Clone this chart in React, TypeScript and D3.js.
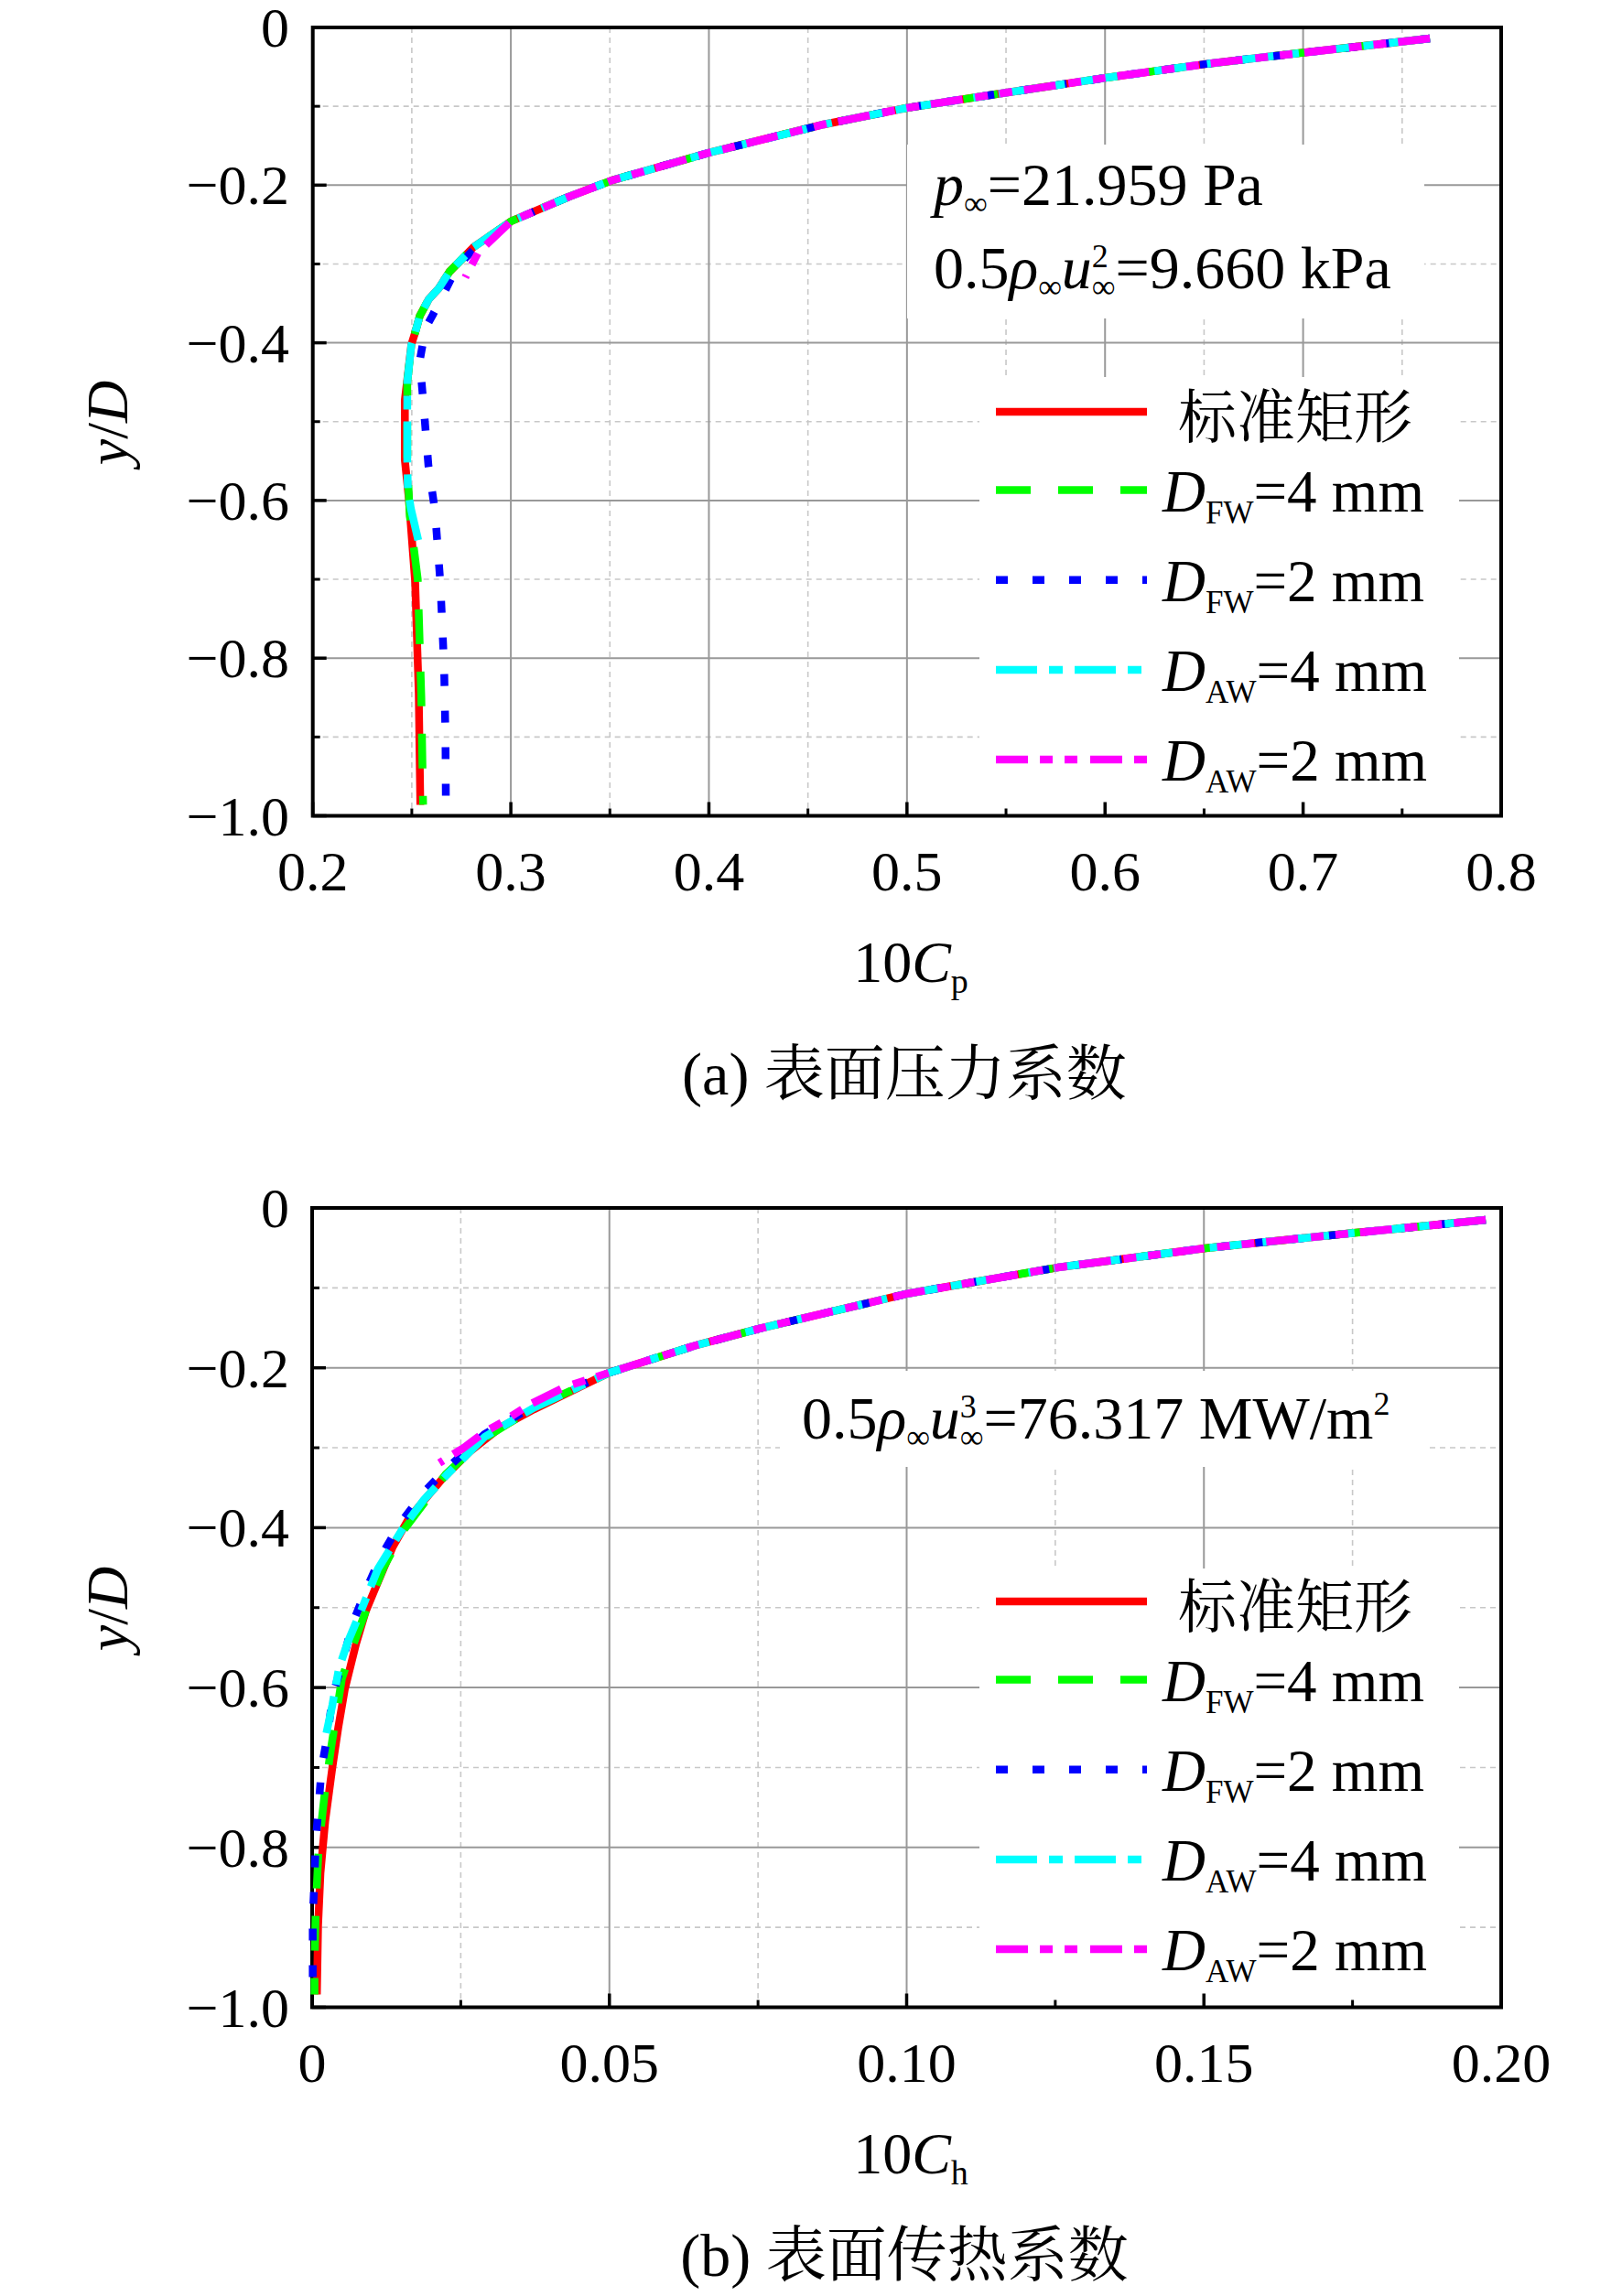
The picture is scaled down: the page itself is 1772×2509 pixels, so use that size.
import React from "react";
import * as d3 from "d3";

type Pt = [number, number];

// ---- (a) 表面压力系数: points are [10Cp, y/D]
// upper part, where all five curves lie on top of each other
const cpShared: Pt[] = [
  [0.764, -0.014], [0.700, -0.032], [0.652, -0.046], [0.600, -0.064],
  [0.544, -0.085], [0.500, -0.102], [0.458, -0.123], [0.400, -0.159],
  [0.351, -0.194], [0.329, -0.215], [0.300, -0.246],
];
const cpStandardTail: Pt[] = [
  [0.281, -0.279], [0.269, -0.310], [0.2636, -0.331], [0.2585, -0.345],
  [0.254, -0.366], [0.2517, -0.387], [0.2498, -0.402], [0.2465, -0.472],
  [0.2465, -0.549], [0.2485, -0.598], [0.2517, -0.704], [0.2535, -0.845],
  [0.2543, -0.986],
];
const cpFW4Tail: Pt[] = [
  [0.281, -0.279], [0.269, -0.310], [0.2636, -0.331], [0.2585, -0.345],
  [0.254, -0.366], [0.2517, -0.387], [0.2498, -0.402], [0.2477, -0.450],
  [0.2477, -0.550], [0.2490, -0.620], [0.2530, -0.700], [0.2548, -0.850],
  [0.2557, -0.986],
];
const cpFW2Tail: Pt[] = [
  [0.283, -0.277], [0.273, -0.303], [0.266, -0.338], [0.2605, -0.365],
  [0.257, -0.381], [0.254, -0.423], [0.2557, -0.472], [0.2584, -0.556],
  [0.2617, -0.613], [0.2644, -0.704], [0.2663, -0.810], [0.2670, -0.900],
  [0.2672, -0.984],
];
const cpAW4Tail: Pt[] = [
  [0.281, -0.279], [0.269, -0.310], [0.2636, -0.331], [0.2585, -0.345],
  [0.254, -0.366], [0.2517, -0.387], [0.2498, -0.402], [0.2477, -0.450],
  [0.2477, -0.550], [0.2480, -0.585], [0.2495, -0.610], [0.2533, -0.651],
];
const cpAW2Tail: Pt[] = [[0.2835, -0.2855], [0.277, -0.317]];

// ---- (b) 表面传热系数: points are [10Ch, y/D]
const chShared: Pt[] = [
  [0.1974, -0.015], [0.1756, -0.031], [0.1506, -0.050], [0.1254, -0.0745],
  [0.1003, -0.107], [0.0752, -0.151], [0.0645, -0.172], [0.050, -0.206],
];
const chStandardTail: Pt[] = [
  [0.0373, -0.252], [0.0317, -0.2745], [0.0265, -0.305], [0.0219, -0.339],
  [0.0163, -0.388], [0.0135, -0.425], [0.0109, -0.471], [0.0090, -0.505],
  [0.0074, -0.545], [0.0055, -0.602], [0.0044, -0.650], [0.0034, -0.700],
  [0.0022, -0.767], [0.0014, -0.832], [0.0010, -0.898], [0.0008, -0.984],
];
const chFW4Tail: Pt[] = [
  [0.0373, -0.250], [0.029, -0.288], [0.0225, -0.333], [0.0155, -0.402],
  [0.0120, -0.450], [0.0091, -0.503], [0.0068, -0.549], [0.0050, -0.589],
  [0.0032, -0.675], [0.0022, -0.727], [0.0011, -0.800], [0.0006, -0.878],
  [0.0004, -0.951], [0.0004, -0.984],
];
const chFW2Tail: Pt[] = [
  [0.0373, -0.248], [0.029, -0.283], [0.0225, -0.327], [0.0186, -0.357],
  [0.0148, -0.395], [0.0117, -0.434], [0.0091, -0.477], [0.0068, -0.520],
  [0.0052, -0.565], [0.0034, -0.612], [0.0027, -0.655], [0.0016, -0.700],
  [0.0011, -0.747], [0.0006, -0.793], [0.0004, -0.839], [0.0001, -0.888],
  [0.0001, -0.982],
];
const chAW4Tail: Pt[] = [
  [0.0373, -0.250], [0.0291, -0.286], [0.0229, -0.332], [0.0188, -0.365],
  [0.0155, -0.398], [0.0111, -0.451], [0.0086, -0.497], [0.0060, -0.543],
  [0.0045, -0.576], [0.0034, -0.622], [0.0024, -0.657],
];
const chAW2Tail: Pt[] = [
  [0.0425, -0.224], [0.0363, -0.247], [0.0322, -0.267], [0.0291, -0.280],
  [0.0255, -0.300], [0.0214, -0.319],
];

// ticks
const cpXMajor = [0.2, 0.3, 0.4, 0.5, 0.6, 0.7, 0.8];
const cpXMinor = [0.25, 0.35, 0.45, 0.55, 0.65, 0.75];
const cpXLabels = ["0.2", "0.3", "0.4", "0.5", "0.6", "0.7", "0.8"];
const chXMajor = [0, 0.05, 0.1, 0.15, 0.2];
const chXMinor = [0.025, 0.075, 0.125, 0.175];
const chXLabels = ["0", "0.05", "0.10", "0.15", "0.20"];
const yMajor = [0, -0.2, -0.4, -0.6, -0.8, -1.0];
const yMinor = [-0.1, -0.3, -0.5, -0.7, -0.9];
const yLabels = ["0", "\u22120.2", "\u22120.4", "\u22120.6", "\u22120.8", "\u22121.0"];

// legend: 标准矩形, D_FW=4 mm, D_FW=2 mm, D_AW=4 mm, D_AW=2 mm
const legendSub = ["", "FW", "FW", "AW", "AW"];
const legendRest = ["标准矩形", "=4 mm", "=2 mm", "=4 mm", "=2 mm"];
const seriesColors = ["#ff0000", "#00ff00", "#0000ff", "#00ffff", "#ff00ff"];
const seriesDashes = ["none", "38,30", "13,27", "45,13,15,13", "35,13,14,13,14,14"];

const serif = "'Liberation Serif','Times New Roman',serif";
const cjk = "'Liberation Serif','Noto Serif CJK SC','Noto Sans CJK SC',serif";

type PanelProps = {
  left: number; right: number; top: number; bottom: number;
  xDomain: [number, number];
  xMajor: number[]; xMinor: number[]; xLabels: string[];
  series: Pt[][];
  xSub: string;
  caption: string;
  captionY: number;
  legendRows: number[];
  legendBox: [number, number, number, number];
  noteBox: [number, number, number, number];
  note: React.ReactNode;
  yTitleY: number;
};

function Panel(p: PanelProps) {
  const x = d3.scaleLinear().domain(p.xDomain).range([p.left, p.right]);
  const y = d3.scaleLinear().domain([-1, 0]).range([p.bottom, p.top]);
  const line = d3.line<Pt>().x((d) => x(d[0])).y((d) => y(d[1]));
  const inner = (v: number, d: [number, number]) => v !== d[0] && v !== d[1];

  return (
    <g>
      {/* minor grid */}
      {p.xMinor.map((v) => (
        <line key={"xm" + v} x1={x(v)} x2={x(v)} y1={p.top} y2={p.bottom}
          stroke="#c8c8c8" strokeWidth={1.6} strokeDasharray="6,5" />
      ))}
      {yMinor.map((v) => (
        <line key={"ym" + v} x1={p.left} x2={p.right} y1={y(v)} y2={y(v)}
          stroke="#c8c8c8" strokeWidth={1.6} strokeDasharray="6,5" />
      ))}
      {/* major grid */}
      {p.xMajor.filter((v) => inner(v, p.xDomain)).map((v) => (
        <line key={"xg" + v} x1={x(v)} x2={x(v)} y1={p.top} y2={p.bottom}
          stroke="#999" strokeWidth={2} />
      ))}
      {yMajor.filter((v) => inner(v, [-1, 0])).map((v) => (
        <line key={"yg" + v} x1={p.left} x2={p.right} y1={y(v)} y2={y(v)}
          stroke="#999" strokeWidth={2} />
      ))}
      {/* boxes hiding the grid behind note and legend */}
      <rect x={p.noteBox[0]} y={p.noteBox[1]} width={p.noteBox[2] - p.noteBox[0]}
        height={p.noteBox[3] - p.noteBox[1]} fill="#fff" />
      <rect x={p.legendBox[0]} y={p.legendBox[1]} width={p.legendBox[2] - p.legendBox[0]}
        height={p.legendBox[3] - p.legendBox[1]} fill="#fff" />
      {/* ticks, inward on bottom and left */}
      {p.xMajor.map((v) => (
        <line key={"xt" + v} x1={x(v)} x2={x(v)} y1={p.bottom} y2={p.bottom - 15}
          stroke="#000" strokeWidth={3.5} />
      ))}
      {p.xMinor.map((v) => (
        <line key={"xtm" + v} x1={x(v)} x2={x(v)} y1={p.bottom} y2={p.bottom - 8}
          stroke="#000" strokeWidth={3} />
      ))}
      {yMajor.map((v) => (
        <line key={"yt" + v} x1={p.left} x2={p.left + 15} y1={y(v)} y2={y(v)}
          stroke="#000" strokeWidth={3.5} />
      ))}
      {yMinor.map((v) => (
        <line key={"ytm" + v} x1={p.left} x2={p.left + 8} y1={y(v)} y2={y(v)}
          stroke="#000" strokeWidth={3} />
      ))}
      <rect x={p.left} y={p.top} width={p.right - p.left} height={p.bottom - p.top}
        fill="none" stroke="#000" strokeWidth={4} />
      {/* curves */}
      {p.series.map((s, i) => (
        <path key={"s" + i} d={line(s) ?? ""} fill="none" stroke={seriesColors[i]}
          strokeWidth={8.5} strokeDasharray={seriesDashes[i]} strokeLinejoin="round" />
      ))}
      {/* legend */}
      {p.legendRows.map((ry, i) => (
        <g key={"lg" + i}>
          <line x1={1088} x2={1253} y1={ry} y2={ry} stroke={seriesColors[i]}
            strokeWidth={8.5} strokeDasharray={seriesDashes[i]} />
          {legendSub[i] === "" ? (
            <text x={1287} y={ry + 28} fontSize={64} fontFamily={cjk}>{legendRest[i]}</text>
          ) : (
            <text x={1270} y={ry + 23} fontSize={65} fontFamily={serif}>
              <tspan fontStyle="italic">D</tspan>
              <tspan fontSize={35} dy={13}>{legendSub[i]}</tspan>
              <tspan dy={-13}>{legendRest[i]}</tspan>
            </text>
          )}
        </g>
      ))}
      {p.note}
      {/* tick labels */}
      {p.xMajor.map((v, i) => (
        <text key={"xl" + v} x={x(v)} y={p.bottom + 81} fontSize={62} fontFamily={serif}
          textAnchor="middle">{p.xLabels[i]}</text>
      ))}
      {yMajor.map((v, i) => (
        <text key={"yl" + v} x={316} y={y(v) + 21} fontSize={62} fontFamily={serif}
          textAnchor="end">{yLabels[i]}</text>
      ))}
      {/* axis titles */}
      <text transform={`translate(139,${p.yTitleY}) rotate(-90)`} fontSize={64}
        fontFamily={serif} textAnchor="middle">
        <tspan fontStyle="italic">y</tspan>/<tspan fontStyle="italic">D</tspan>
      </text>
      <text x={995} y={p.bottom + 181} fontSize={64} fontFamily={serif} textAnchor="middle">
        10<tspan fontStyle="italic">C</tspan>
        <tspan fontSize={38} dy={12}>{p.xSub}</tspan>
      </text>
      <text x={988} y={p.captionY} fontSize={66} fontFamily={cjk} textAnchor="middle">
        {p.caption}
      </text>
    </g>
  );
}

export default function App() {
  const cpSeries = [
    [...cpShared, ...cpStandardTail],
    [...cpShared, ...cpFW4Tail],
    [...cpShared, ...cpFW2Tail],
    [...cpShared, ...cpAW4Tail],
    [...cpShared, ...cpAW2Tail],
  ];
  const chSeries = [
    [...chShared, ...chStandardTail],
    [...chShared, ...chFW4Tail],
    [...chShared, ...chFW2Tail],
    [...chShared, ...chAW4Tail],
    [...chShared, ...chAW2Tail],
  ];

  const noteA = (
    <g fontFamily={serif} fontSize={66}>
      <text x={1020} y={224}>
        <tspan fontStyle="italic">p</tspan>
        <tspan fontSize={36} dy={10}>∞</tspan>
        <tspan dy={-10}>=21.959 Pa</tspan>
      </text>
      <text x={1020} y={315}>
        0.5<tspan fontStyle="italic">ρ</tspan>
        <tspan fontSize={36} dy={10}>∞</tspan>
        <tspan fontStyle="italic" dy={-10}>u</tspan>
        <tspan fontSize={36} dy={10}>∞</tspan>
        <tspan fontSize={36} dx={-25.7} dy={-33}>2</tspan>
        <tspan dx={7.7} dy={23}>=9.660 kPa</tspan>
      </text>
    </g>
  );
  const noteB = (
    <g fontFamily={serif} fontSize={66}>
      <text x={876} y={1572}>
        0.5<tspan fontStyle="italic">ρ</tspan>
        <tspan fontSize={36} dy={10}>∞</tspan>
        <tspan fontStyle="italic" dy={-10}>u</tspan>
        <tspan fontSize={36} dy={10}>∞</tspan>
        <tspan fontSize={36} dx={-25.7} dy={-33}>3</tspan>
        <tspan dx={7.7} dy={23}>=76.317 MW/m</tspan>
        <tspan fontSize={36} dy={-26}>2</tspan>
      </text>
    </g>
  );

  return (
    <svg width={1772} height={2509} style={{ position: "absolute", left: 0, top: 0, background: "#fff" }}>
      <rect width={1772} height={2509} fill="#fff" />
      <Panel left={341.7} right={1640} top={30} bottom={891.5} xDomain={[0.2, 0.8]}
        xMajor={cpXMajor} xMinor={cpXMinor} xLabels={cpXLabels} series={cpSeries}
        xSub="p" caption="(a) 表面压力系数" captionY={1196}
        legendRows={[450, 535.5, 633.7, 732, 830]}
        legendBox={[1070, 412, 1594, 889]} noteBox={[991, 158, 1556, 348]}
        note={noteA} yTitleY={462} />
      <Panel left={341} right={1640} top={1320} bottom={2193.5} xDomain={[0, 0.2]}
        xMajor={chXMajor} xMinor={chXMinor} xLabels={chXLabels} series={chSeries}
        xSub="h" caption="(b) 表面传热系数" captionY={2487}
        legendRows={[1750, 1835.5, 1933.7, 2032, 2130]}
        legendBox={[1070, 1714, 1594, 2191]} noteBox={[852, 1498, 1559, 1603]}
        note={noteB} yTitleY={1758} />
    </svg>
  );
}
